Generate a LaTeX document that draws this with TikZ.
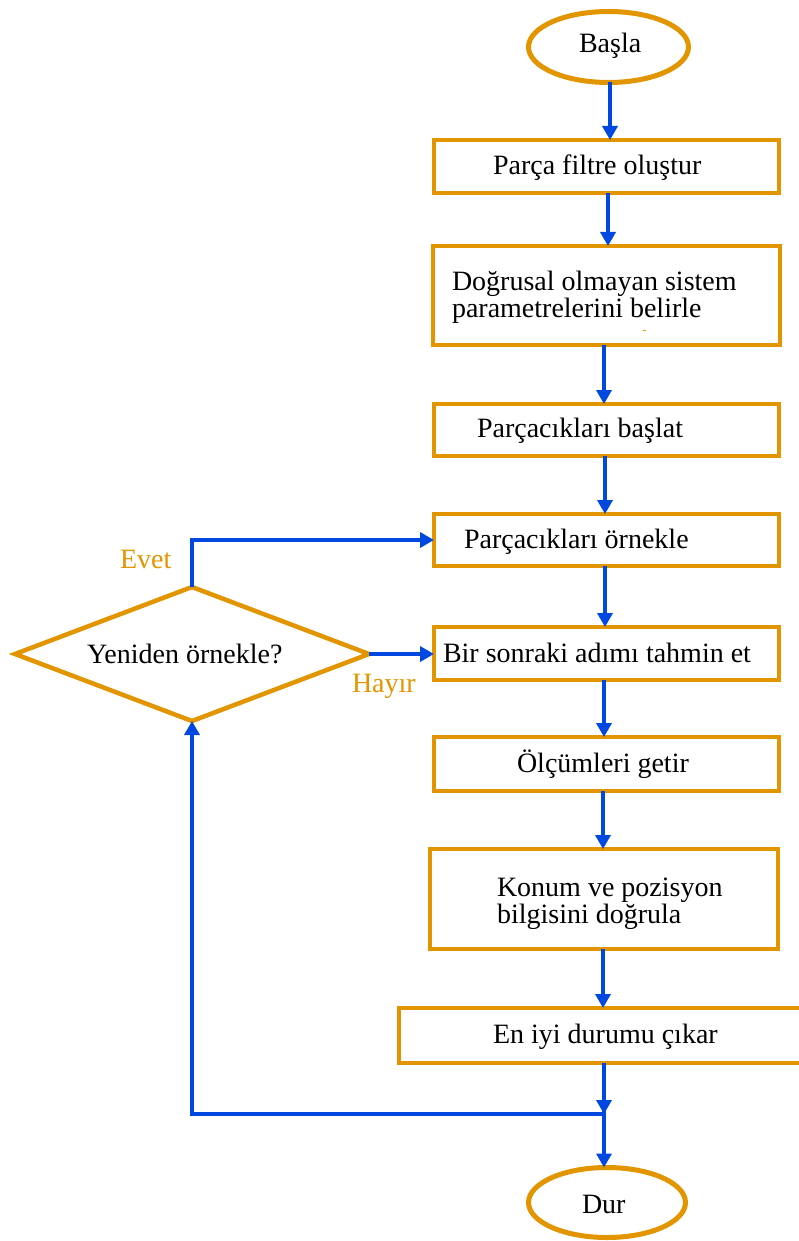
\documentclass[tikz,border=0pt]{standalone}
\usepackage{fontspec}
\setmainfont{Liberation Serif}
\usetikzlibrary{shapes.geometric,arrows.meta}
\definecolor{flowor}{RGB}{227,149,0}
\definecolor{flowbl}{RGB}{0,72,224}
\begin{document}
\begin{tikzpicture}[x=1pt,y=-1pt,
  box/.style={draw=flowor,line width=4.5pt,rectangle,inner sep=0pt,outer sep=0pt},
  term/.style={draw=flowor,line width=5pt,ellipse,inner sep=0pt,outer sep=0pt},
  decide/.style={draw=flowor,line width=4.5pt,diamond,inner sep=0pt,outer sep=0pt},
  lbl/.style={font=\fontsize{28}{27}\selectfont,anchor=base west,inner sep=0pt,outer sep=0pt},
  flow/.style={draw=flowbl,line width=4pt},
  arr/.style={flow,-{Triangle[width=15pt,length=14pt]}},
]
\useasboundingbox (0,0) rectangle (798,1241);

% terminals
\node[term,minimum width=160pt,minimum height=71pt] (start) at (608.5,47) {};
\node[term,minimum width=157pt,minimum height=70pt] (stop) at (607,1202.5) {};

% process boxes
\node[box,minimum width=345pt,minimum height=53pt] (b1) at (606.5,166.5) {};
\node[box,minimum width=347pt,minimum height=99pt] (b2) at (606.5,295.5) {};
\node[box,minimum width=345pt,minimum height=52pt] (b3) at (606.5,430) {};
\node[box,minimum width=345pt,minimum height=52pt] (b4) at (606.5,540) {};
\node[box,minimum width=345pt,minimum height=53pt] (b5) at (606.5,653.5) {};
\node[box,minimum width=345pt,minimum height=54pt] (b6) at (606.5,764) {};
\node[box,minimum width=348pt,minimum height=100pt] (b7) at (604,899) {};
\node[box,minimum width=402pt,minimum height=55pt] (b8) at (600,1035.5) {};

% decision
\node[decide,minimum width=354pt,minimum height=134pt] (d) at (192,654) {};

% small mark inside the second box
\draw[flowor,line width=1pt] (643,330) -- (646,330);

% texts (two-line labels are anchored on their last baseline)
\node[lbl] (tstart) at (579,53) {Başla};
\node[lbl] (tstop) at (582,1213) {Dur};
\node[lbl] (t1) at (493,175) {Parça filtre oluştur};
\node[lbl,align=left] (t2) at (452,317) {Doğrusal olmayan sistem\\parametrelerini belirle};
\node[lbl] (t3) at (477,437) {Parçacıkları başlat};
\node[lbl] (t4) at (464,548) {Parçacıkları örnekle};
\node[lbl] (t5) at (443,662) {Bir sonraki adımı tahmin et};
\node[lbl] (t6) at (517,772) {Ölçümleri getir};
\node[lbl,align=left] (t7) at (497,923) {Konum ve pozisyon\\bilgisini doğrula};
\node[lbl] (t8) at (493,1043) {En iyi durumu çıkar};
\node[lbl] (td) at (87,663) {Yeniden örnekle?};
\node[lbl,text=flowor] (tyes) at (120,568) {Evet};
\node[lbl,text=flowor] (tno) at (352,692) {Hayır};

% main flow
\draw[arr] ([xshift=1.5pt]start.south) -- ([xshift=3.5pt]b1.north);
\draw[arr] ([xshift=1.5pt]b1.south) -- ([xshift=1.5pt]b2.north);
\draw[arr] ([xshift=-2.5pt]b2.south) -- ([xshift=-2.5pt]b3.north);
\draw[arr] ([xshift=-1.5pt]b3.south) -- ([xshift=-1.5pt]b4.north);
\draw[arr] ([xshift=-1.5pt]b4.south) -- ([xshift=-1.5pt]b5.north);
\draw[arr] ([xshift=-2.5pt]b5.south) -- ([xshift=-2.5pt]b6.north);
\draw[arr] ([xshift=-3.5pt]b6.south) -- ([xshift=-1pt]b7.north);
\draw[arr] ([xshift=-1pt]b7.south) -- ([xshift=3pt]b8.north);

% loop back to the decision and on to the end
\coordinate (j) at (604,1114);
\draw[arr] ([xshift=4pt]b8.south) -- (j);
\draw[arr] (j) -- (j -| d.south) -- (d.south);
\draw[arr] ([yshift=4pt]j) -- ([xshift=-3pt]stop.north);

% decision branches
\draw[arr] (d.north) -- (d.north |- b4.west) -- (b4.west);
\draw[arr] (d.east) -- (d.east -| b5.west);
\end{tikzpicture}
\end{document}
